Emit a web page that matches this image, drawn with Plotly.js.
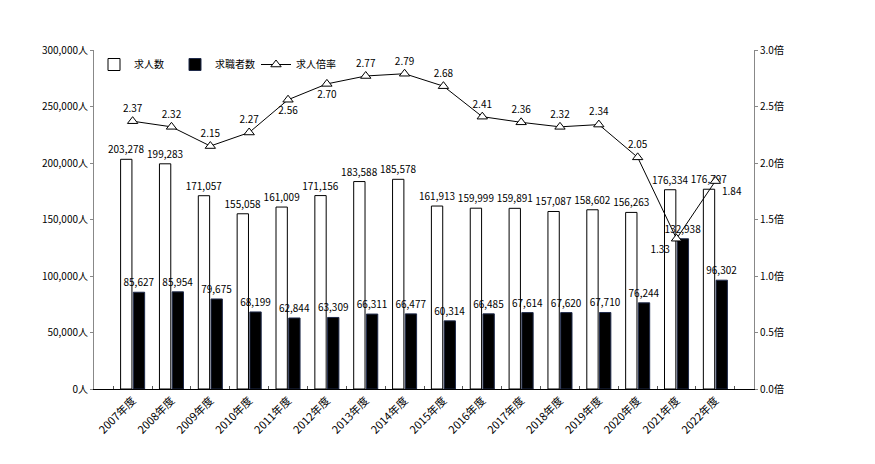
<!DOCTYPE html>
<html>
<head>
<meta charset="utf-8">
<script src="https://cdn.plot.ly/plotly-3.0.1.min.js"></script>
<style>
  body { margin: 0; background: #fff; }
  #myDiv { width: 875px; height: 464px; }
</style>
</head>
<body>
<div id="myDiv"></div>
<script>
const years = ['2007年度', '2008年度', '2009年度', '2010年度', '2011年度', '2012年度', '2013年度', '2014年度',
  '2015年度', '2016年度', '2017年度', '2018年度', '2019年度', '2020年度', '2021年度', '2022年度'];

const kyujinsu = [203278, 199283, 171057, 155058, 161009, 171156, 183588, 185578,
  161913, 159999, 159891, 157087, 158602, 156263, 176334, 176797];

const kyushokusha = [85627, 85954, 79675, 68199, 62844, 63309, 66311, 66477,
  60314, 66485, 67614, 67620, 67710, 76244, 132938, 96302];

const bairitsu = [2.37, 2.32, 2.15, 2.27, 2.56, 2.70, 2.77, 2.79,
  2.68, 2.41, 2.36, 2.32, 2.34, 2.05, 1.33, 1.84];

// where each ratio label sits relative to its point
const ratioLabelPos = ['top center', 'top center', 'top center', 'top center', 'bottom center', 'bottom center',
  'top center', 'top center', 'top center', 'top center', 'top center', 'top center', 'top center',
  'top center', 'bottom left', 'bottom right'];

const font = 'Noto Sans CJK JP, sans-serif';
const fmt = v => v.toLocaleString('en-US');

const kyujin = {
  x: years,
  y: kyujinsu,
  type: 'bar',
  name: '求人数',
  marker: { color: '#ffffff', line: { color: '#000000', width: 1 } },
  text: kyujinsu.map(fmt),
  textposition: 'outside',
  constraintext: 'none',
  cliponaxis: false,
  textfont: { size: 10, color: '#000' }
};

const kyushoku = {
  x: years,
  y: kyushokusha,
  type: 'bar',
  name: '求職者数',
  marker: { color: '#000000', line: { color: '#1f2a4a', width: 1 } },
  text: kyushokusha.map(fmt),
  textposition: 'outside',
  constraintext: 'none',
  cliponaxis: false,
  textfont: { size: 10, color: '#000' }
};

const ratio = {
  x: years,
  y: bairitsu,
  yaxis: 'y2',
  type: 'scatter',
  mode: 'lines+markers+text',
  name: '求人倍率',
  line: { color: '#000', width: 1 },
  marker: { symbol: 'triangle-up', size: 9, color: '#fff', line: { color: '#000', width: 1 } },
  text: bairitsu.map(v => v.toFixed(2)),
  textposition: ratioLabelPos,
  cliponaxis: false,
  textfont: { size: 10, color: '#000' }
};

var layout = {
  width: 875,
  height: 464,
  margin: { l: 94, r: 121, t: 50, b: 75 },
  paper_bgcolor: '#fff',
  plot_bgcolor: '#fff',
  font: { family: font, size: 10, color: '#000' },
  barmode: 'group',
  bargap: 0.345,
  bargroupgap: 0.11,
  showlegend: true,
  legend: {
    orientation: 'h',
    x: 0, y: 1.0,
    xanchor: 'left', yanchor: 'top',
    bgcolor: 'rgba(0,0,0,0)',
    font: { size: 10 },
    itemwidth: 30,
    entrywidth: 36,
    entrywidthmode: 'pixels',
    traceorder: 'normal'
  },
  xaxis: {
    type: 'category',
    tickangle: -45,
    tickfont: { size: 11 },
    showline: true,
    linecolor: '#000',
    linewidth: 1,
    ticks: 'inside',
    tickson: 'boundaries',
    ticklen: 3,
    tickcolor: '#555',
    showgrid: false
  },
  yaxis: {
    range: [0, 300000],
    dtick: 50000,
    tickformat: ',d',
    ticksuffix: '人',
    showline: true,
    linecolor: '#888',
    linewidth: 1,
    ticks: 'outside',
    ticklen: 3,
    tickcolor: '#888',
    showgrid: false,
    zeroline: false,
    tickfont: { size: 10 }
  },
  yaxis2: {
    overlaying: 'y',
    side: 'right',
    range: [0, 3],
    dtick: 0.5,
    tickformat: '.1f',
    ticksuffix: '倍',
    showline: true,
    linecolor: '#888',
    linewidth: 1,
    ticks: 'outside',
    ticklen: 3,
    tickcolor: '#888',
    showgrid: false,
    zeroline: false,
    tickfont: { size: 10 }
  }
};

Plotly.newPlot('myDiv', [kyujin, kyushoku, ratio], layout, { displayModeBar: false, staticPlot: true });
</script>
</body>
</html>
